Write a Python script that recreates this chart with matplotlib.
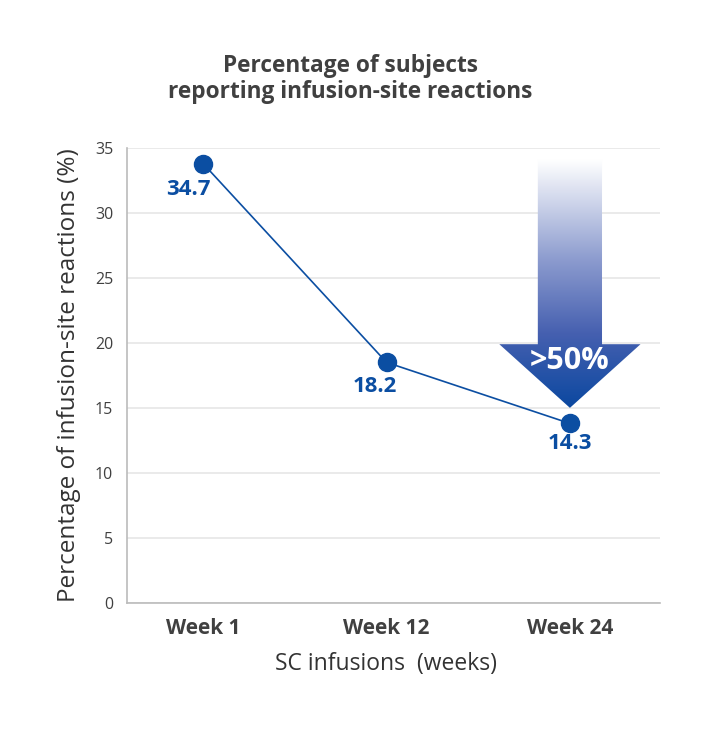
import matplotlib
matplotlib.use('Agg')
import matplotlib.pyplot as plt
import numpy as np
from matplotlib.colors import LinearSegmentedColormap
from matplotlib.patches import Polygon

plt.rcParams['font.family'] = ['Open Sans', 'DejaVu Sans']

# data (points sit where the chart draws them, labels as printed)
weeks = ['Week 1', 'Week 12', 'Week 24']
pct = [33.8, 18.5, 13.8]
pct_labels = ['34.7', '18.2', '14.3']
arrow_text = '>50%'

blue = '#0b4ea2'
grey_txt = '#404040'

fig = plt.figure(figsize=(7.01, 7.39), dpi=100)
ax = fig.add_axes([0.1812, 0.1844, 0.760, 0.6153])

x = np.arange(len(weeks))
ax.plot(x, pct, color=blue, lw=1.2, marker='o', markersize=13, zorder=4)

# value labels under the points
offsets = [(-15, -26), (-12, -24), (0, -20)]
for xi, yi, lab, off in zip(x, pct, pct_labels, offsets):
    ax.annotate(lab, (xi, yi), xytext=off, textcoords='offset pixels',
                ha='center', va='center', fontsize=16, fontweight='bold',
                color=blue, zorder=5)

# gradient arrow above the last point
tip_x, tip_y = x[-1], pct[-1] + 1.2
shaft_hw, head_hw = 0.175, 0.385
head_top, shaft_top = tip_y + 4.9, tip_y + 19.1
verts = [(tip_x - shaft_hw, shaft_top), (tip_x + shaft_hw, shaft_top),
         (tip_x + shaft_hw, head_top), (tip_x + head_hw, head_top),
         (tip_x, tip_y), (tip_x - head_hw, head_top),
         (tip_x - shaft_hw, head_top)]
poly = Polygon(verts, closed=True, facecolor='none', edgecolor='none')
ax.add_patch(poly)
cmap = LinearSegmentedColormap.from_list(
    'arr', [(0, '#0b48a0'), (0.3, '#4660b0'), (0.6, '#8d9ccf'), (1.0, '#ffffff')])
grad = np.linspace(0, 1, 256).reshape(-1, 1)
im = ax.imshow(grad, cmap=cmap, aspect='auto', origin='lower',
               extent=[tip_x - head_hw, tip_x + head_hw, tip_y, shaft_top],
               zorder=3)
im.set_clip_path(poly)
ax.text(tip_x, tip_y + 3.6, arrow_text, ha='center', va='center',
        fontsize=22, fontweight='bold', color='white', zorder=5)

ax.set_xlim(-0.415, 2.49)
ax.set_ylim(0, 35)
ax.set_yticks(range(0, 36, 5))
ax.set_xticks(x)
ax.set_xticklabels(weeks, fontsize=15, fontweight='bold', color=grey_txt)
ax.tick_params(axis='y', labelsize=11.5, labelcolor=grey_txt, length=0, pad=10)
ax.tick_params(axis='x', length=0, pad=11)
ax.grid(axis='y', color='#e6e6e6', lw=1.2)
ax.set_axisbelow(True)
for s in ['top', 'right']:
    ax.spines[s].set_visible(False)
for s in ['left', 'bottom']:
    ax.spines[s].set_color('#bbbbbb')
    ax.spines[s].set_linewidth(1.2)

ax.set_ylabel('Percentage of infusion-site reactions (%)', fontsize=17.5,
              color='#333333', labelpad=10)
ax.set_xlabel('SC infusions  (weeks)', fontsize=16.5, color='#333333', labelpad=9)
ax.xaxis.label.set_x(0.486)

fig.text(0.5, 0.893, 'Percentage of subjects\nreporting infusion-site reactions',
         ha='center', va='center', fontsize=16.3, fontweight='bold',
         color=grey_txt, linespacing=1.12)

fig.savefig('out.png', dpi=100)
